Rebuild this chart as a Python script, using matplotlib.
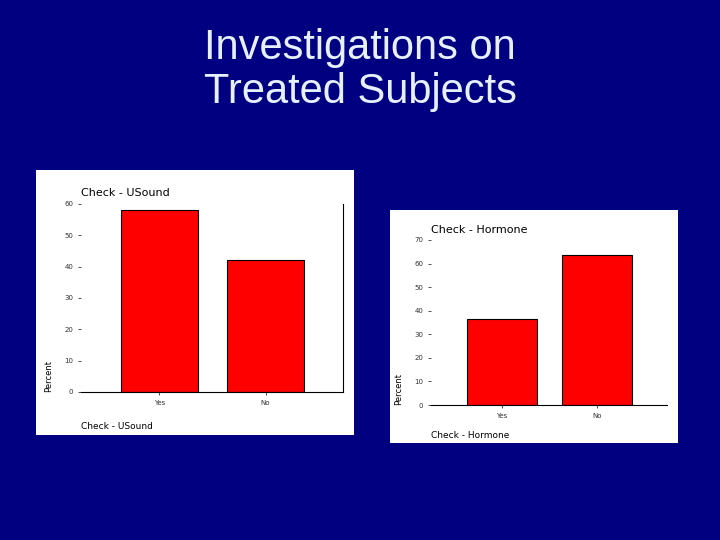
import matplotlib
matplotlib.use('Agg')
from matplotlib import pyplot as plt
from matplotlib.patches import Rectangle

categories = ['Yes', 'No']
usound_pct = [58, 42]
hormone_pct = [36.5, 63.5]
usound_ticks = [0, 10, 20, 30, 40, 50, 60]
hormone_ticks = [0, 10, 20, 30, 40, 50, 60, 70]

W, H = 720, 540
fig = plt.figure(figsize=(7.2, 5.4), dpi=100, facecolor='#000080')

fig.text(0.5, 1 - 70 / H, 'Investigations on\nTreated Subjects', color='#e6f0ff',
         ha='center', va='center', fontsize=30, family='Liberation Sans', linespacing=1.15)


def box(x0, y0, x1, y1):
    return [x0 / W, 1 - y1 / H, (x1 - x0) / W, (y1 - y0) / H]


def panel(pbox, abox, vals, ticks, top, title, right_spine):
    fig.patches.append(Rectangle((pbox[0], pbox[1]), pbox[2], pbox[3],
                                 transform=fig.transFigure, facecolor='white', zorder=-5))
    ax = fig.add_axes(abox)
    ax.bar(range(len(categories)), vals, width=0.73, color='red', edgecolor='black', linewidth=0.8)
    ax.set_xlim(-0.74, 1.73)
    ax.set_ylim(0, top)
    ax.set_xticks(range(len(categories)))
    ax.set_xticklabels(categories)
    ax.set_yticks(ticks)
    ax.tick_params(labelsize=5, length=2, width=0.6, colors='#333333')
    ax.spines['top'].set_visible(False)
    ax.spines['left'].set_visible(False)
    ax.spines['right'].set_visible(right_spine)
    ax.set_ylabel('Percent', fontsize=6, loc='bottom', labelpad=8)
    ax.set_facecolor('white')
    ax.text(0, 1.03, title, transform=ax.transAxes, fontsize=8, va='bottom', ha='left')
    ax.text(0, -0.16, title, transform=ax.transAxes, fontsize=6.5, va='top', ha='left')
    return ax


panel(box(36, 170, 354, 435), box(81, 204, 343, 392), usound_pct, usound_ticks, 60,
      'Check - USound', True)
panel(box(390, 210, 678, 443), box(431, 240, 667, 405), hormone_pct, hormone_ticks, 70,
      'Check - Hormone', False)

fig.savefig('out.png', dpi=100, facecolor=fig.get_facecolor())
